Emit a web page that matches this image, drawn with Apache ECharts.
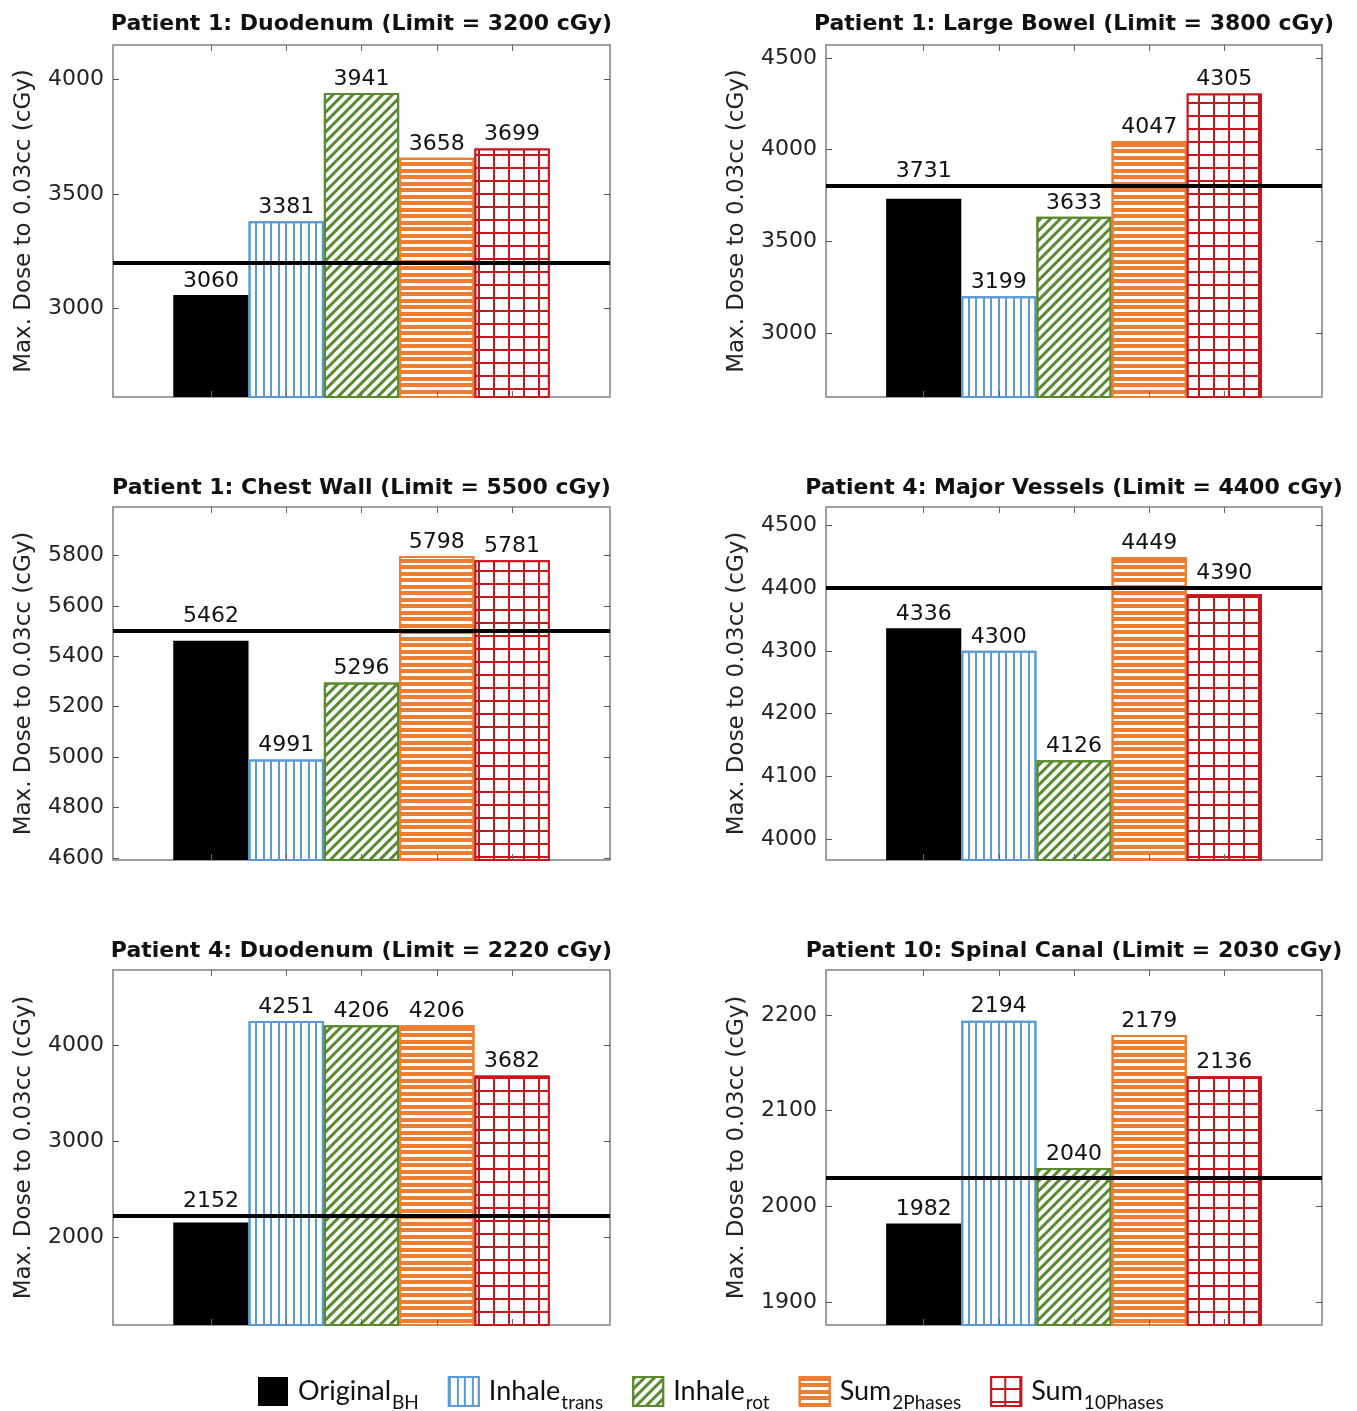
<!DOCTYPE html>
<html><head><meta charset="utf-8">
<script src="https://cdn.jsdelivr.net/npm/echarts@6/dist/echarts.min.js"></script>
<style>html,body{margin:0;padding:0;background:#fff}#c{width:1357px;height:1411px}</style>
</head><body><div id="c"></div>
<script>
// ---- data ----
const seriesNames = ['Original_BH', 'Inhale_trans', 'Inhale_rot', 'Sum_2Phases', 'Sum_10Phases'];
const panelTitles = [
  'Patient 1: Duodenum (Limit = 3200 cGy)',
  'Patient 1: Large Bowel (Limit = 3800 cGy)',
  'Patient 1: Chest Wall (Limit = 5500 cGy)',
  'Patient 4: Major Vessels (Limit = 4400 cGy)',
  'Patient 4: Duodenum (Limit = 2220 cGy)',
  'Patient 10: Spinal Canal (Limit = 2030 cGy)'
];
const limits = [3200, 3800, 5500, 4400, 2220, 2030];
const originalBH = [3060, 3731, 5462, 4336, 2152, 1982];
const inhaleTrans = [3381, 3199, 4991, 4300, 4251, 2194];
const inhaleRot = [3941, 3633, 5296, 4126, 4206, 2040];
const sum2Phases = [3658, 4047, 5798, 4449, 4206, 2179];
const sum10Phases = [3699, 4305, 5781, 4390, 3682, 2136];
const yMin = [2615, 2650, 4592, 3967, 1083, 1876];
const yMax = [4150, 4570, 5992, 4529, 4781, 2247];
const yTicks = [
  [3000, 3500, 4000],
  [3000, 3500, 4000, 4500],
  [4600, 4800, 5000, 5200, 5400, 5600, 5800],
  [4000, 4100, 4200, 4300, 4400, 4500],
  [2000, 3000, 4000],
  [1900, 2000, 2100, 2200]
];
const barPositions = [1, 2, 3, 4, 5];
const yAxisName = 'Max. Dose to 0.03cc (cGy)';

// ---- styles ----
const seriesValues = [originalBH, inhaleTrans, inhaleRot, sum2Phases, sum10Phases];
const BLUE = '#5B9BD5', GREEN = '#5A8A30', ORANGE = '#ED7D31', RED = '#C8161D';
const itemStyles = [
  { color: '#000' },
  { color: '#fff', borderColor: BLUE, borderWidth: 2,
    decal: { symbol: 'rect', symbolSize: 1, symbolKeepAspect: false, color: BLUE, dashArrayX: [2, 6, 2, 5], dashArrayY: [4, 0] } },
  { color: '#fff', borderColor: GREEN, borderWidth: 2,
    decal: { symbol: 'rect', symbolSize: 1, symbolKeepAspect: false, color: GREEN, dashArrayX: [3, 4], dashArrayY: [4, 0], rotation: Math.PI / 4 } },
  { color: '#fff', borderColor: ORANGE, borderWidth: 2,
    decal: { symbol: 'rect', symbolSize: 1, symbolKeepAspect: false, color: ORANGE, dashArrayX: [4, 0], dashArrayY: [4, 2, 4, 3] } },
  { color: RED, borderColor: RED, borderWidth: 2,
    decal: { symbol: 'rect', symbolSize: 1, symbolKeepAspect: false, color: '#fff', backgroundColor: RED, dashArrayX: [13, 2], dashArrayY: [11, 2] } }
];
const colLeft = [113, 826], colWidth = [497, 496];
const rowTop = [45, 507, 970], rowHeight = [352, 353, 355];
const titleTop = [13, 477, 940];
const FONT = 'DejaVu Sans';
const X_MIN = -0.3, X_MAX = 6.3;
const LABEL_GAP = 3, LABEL_H = 26, LINE_W = 4;

const grids = [], xAxes = [], yAxes = [], titles = [], series = [];
for (let p = 0; p < 6; p++) {
  const col = p % 2, row = Math.floor(p / 2);
  grids.push({ left: colLeft[col], top: rowTop[row], width: colWidth[col], height: rowHeight[row],
    show: true, borderColor: '#808080', borderWidth: 1.5, backgroundColor: 'transparent' });
  titles.push({ text: panelTitles[p], left: colLeft[col] + colWidth[col] / 2, top: titleTop[row], textAlign: 'center', padding: 0,
    textStyle: { fontSize: 22, fontWeight: 'bold', fontFamily: FONT, color: '#111' } });
  ['bottom', 'top'].forEach(pos => xAxes.push({
    type: 'value', gridIndex: p, min: X_MIN, max: X_MAX, position: pos, z: 3,
    axisLine: { show: false, onZero: false }, splitLine: { show: false }, axisLabel: { show: false },
    axisTick: { show: true, inside: true, length: 6, customValues: barPositions, lineStyle: { color: '#666', width: 1 } }
  }));
  yAxes.push({
    type: 'value', gridIndex: p, min: yMin[p], max: yMax[p], position: 'left',
    axisLine: { show: false, onZero: false }, splitLine: { show: false },
    axisTick: { show: true, inside: true, length: 6, customValues: yTicks[p], lineStyle: { color: '#555', width: 1 } },
    axisLabel: { customValues: yTicks[p], fontSize: 22, fontFamily: FONT, color: '#222', margin: 9, formatter: v => String(v) },
    name: yAxisName, nameLocation: 'middle', nameGap: 77,
    nameTextStyle: { fontSize: 23, fontFamily: FONT, color: '#222' }
  });
  yAxes.push({
    type: 'value', gridIndex: p, min: yMin[p], max: yMax[p], position: 'right',
    axisLine: { show: false, onZero: false }, splitLine: { show: false }, axisLabel: { show: false },
    axisTick: { show: true, inside: true, length: 6, customValues: yTicks[p], lineStyle: { color: '#555', width: 1 } }
  });
  const bw = colWidth[col] / (X_MAX - X_MIN);
  const pxPerUnit = rowHeight[row] / (yMax[p] - yMin[p]);
  for (let k = 0; k < 5; k++) {
    const v = seriesValues[k][p];
    // lift a value label above the limit line when the line would run through it
    const gapPx = (limits[p] - v) * pxPerUnit;
    const dist = (gapPx > 0 && gapPx < LABEL_H) ? gapPx + LINE_W / 2 + 2 : LABEL_GAP;
    const s = {
      type: 'bar', name: seriesNames[k], xAxisIndex: 2 * p, yAxisIndex: 2 * p,
      data: [[barPositions[k], v]],
      barWidth: bw, barGap: '-100%',
      itemStyle: itemStyles[k],
      label: { show: true, position: 'top', distance: dist, fontSize: 22, fontFamily: FONT, color: '#111',
        formatter: d => String(d.value[1]) },
      emphasis: { disabled: true }, silent: true
    };
    if (k === 4) {
      s.markLine = { silent: true, symbol: 'none', z: 10, label: { show: false },
        lineStyle: { color: '#000', width: LINE_W, type: 'solid' },
        data: [{ yAxis: limits[p] }] };
    }
    series.push(s);
  }
}

const chart = echarts.init(document.getElementById('c'), null, { renderer: 'canvas' });
chart.setOption({
  animation: false,
  backgroundColor: '#fff',
  title: titles, grid: grids, xAxis: xAxes, yAxis: yAxes, series: series,
  legend: {
    data: seriesNames, left: 258, top: 1376, padding: 0, itemWidth: 30, itemHeight: 29, itemGap: 29, icon: 'rect',
    selectedMode: false,
    formatter: name => { const i = name.lastIndexOf('_'); return '{n|' + name.slice(0, i) + '}{s|' + name.slice(i + 1) + '}'; },
    textStyle: { rich: {
      n: { fontSize: 27, fontFamily: 'Lato', color: '#111', lineHeight: 30, padding: [0, 0, 0, 5] },
      s: { fontSize: 19, fontFamily: 'Lato', color: '#111', lineHeight: 19, verticalAlign: 'bottom', padding: [0, 0, -6, 1] }
    } }
  }
});
</script></body></html>
